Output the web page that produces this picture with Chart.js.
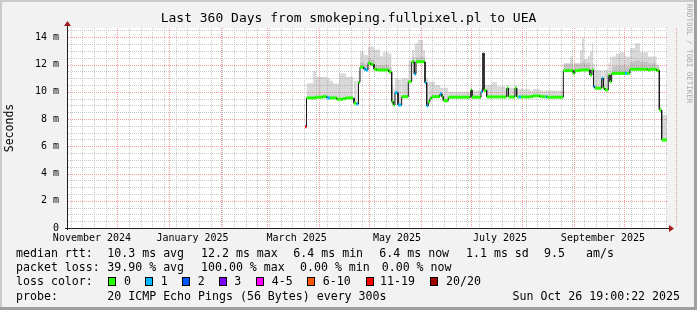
<!DOCTYPE html>
<html>
<head>
<meta charset="utf-8">
<script src="https://cdn.jsdelivr.net/npm/chart.js@4/dist/chart.umd.min.js"></script>
<style>
  html, body { margin: 0; padding: 0; background: #f2f2f2; }
  canvas { display: block; }
</style>
</head>
<body>
<canvas id="rrd" width="697" height="310"></canvas>
<script>
// smokeping 360 day graph, redrawn with Chart.js
const MONO = "'DejaVu Sans Mono', monospace";
const W = 697, H = 310;
const START = Date.UTC(2024, 9, 31, 18);   // Oct 31 2024 19:00 CET
const SPAN_DAYS = 360;
const DAY = 864e5;

// step start (days since START), median rtt (ms), smoke bands (ms), loss colour index
const stepDay = [
  142.8, 143.7, 145.8, 147.6, 149.4, 151.8, 153.6, 156.0, 157.8, 159.6,
  162.0, 163.2, 165.6, 167.4, 169.8, 171.6, 172.2, 173.7, 174.9, 175.8,
  177.0, 178.2, 179.4, 180.6, 182.4, 184.2, 186.0, 187.8, 189.6, 191.4,
  193.2, 194.8, 195.8, 196.8, 198.6, 200.8, 202.8, 204.8, 206.8, 208.4,
  209.4, 210.6, 212.4, 213.6, 214.8, 215.8, 216.8, 217.8, 219.0, 220.8,
  223.8, 225.0, 225.8, 228.8, 232.8, 236.4, 241.8, 242.2, 243.0, 246.6,
  248.4, 249.4, 250.2, 251.8, 255.0, 258.0, 262.8, 263.8, 264.8, 268.8,
  269.8, 270.8, 272.4, 277.8, 279.6, 283.8, 287.2, 288.0, 292.8, 297.8,
  301.8, 303.8, 304.8, 307.8, 309.0, 310.2, 312.6, 313.8, 315.0, 315.9,
  316.8, 320.8, 321.8, 322.8, 324.8, 325.8, 326.8, 329.4, 331.8, 334.8,
  336.0, 337.8, 340.8, 343.8, 348.6, 349.8, 353.8, 355.4, 356.8
];
const medianMs = [
  7.44, 9.55, 9.55, 9.55, 9.60, 9.60, 9.64, 9.55, 9.55, 9.55,
  9.45, 9.45, 9.50, 9.55, 9.55, 9.55, 9.16, 9.10, 10.70, 11.80,
  11.80, 11.65, 11.60, 12.09, 12.00, 11.65, 11.60, 11.60, 11.60, 11.60,
  11.45, 9.27, 9.03, 9.93, 9.03, 9.64, 9.64, 10.74, 12.20, 11.30,
  12.20, 12.20, 12.20, 12.20, 10.67, 8.96, 9.27, 9.52, 9.64, 9.64,
  9.84, 9.64, 9.35, 9.60, 9.60, 9.60, 9.58, 10.13, 9.60, 9.60,
  10.00, 12.83, 10.10, 9.62, 9.62, 9.62, 9.62, 10.26, 9.62, 10.26,
  9.62, 9.62, 9.62, 9.64, 9.70, 9.64, 9.64, 9.60, 9.60, 11.55,
  11.55, 11.35, 11.55, 11.60, 11.60, 11.60, 11.60, 11.23, 11.60, 10.37,
  10.26, 10.99, 10.26, 10.13, 11.23, 10.74, 11.35, 11.35, 11.35, 11.35,
  11.35, 11.65, 11.65, 11.65, 11.60, 11.65, 11.55, 8.66, 6.46
];
// denser part of the smoke
const smokeMidMs = [
  7.44, 9.55, 9.55, 9.55, 9.60, 9.60, 9.64, 9.55, 9.55, 9.55,
  9.45, 9.45, 9.50, 9.55, 9.55, 9.55, 9.16, 9.10, 10.70, 12.15,
  12.15, 12.00, 11.95, 12.45, 12.35, 12.00, 11.95, 11.95, 11.95, 11.95,
  11.80, 9.27, 9.03, 9.93, 9.03, 9.64, 9.64, 10.74, 12.55, 11.65,
  12.55, 12.55, 12.55, 12.55, 10.67, 8.96, 9.27, 9.52, 9.64, 9.64,
  9.84, 9.64, 9.35, 9.60, 9.60, 9.60, 9.58, 10.13, 9.60, 9.60,
  10.00, 12.83, 10.10, 9.62, 9.62, 9.62, 9.62, 10.26, 9.62, 10.26,
  9.62, 9.62, 9.62, 9.64, 9.70, 9.64, 9.64, 9.60, 9.60, 12.05,
  12.05, 11.85, 12.05, 12.10, 12.20, 12.10, 12.10, 11.70, 12.10, 10.37,
  10.26, 10.99, 10.26, 10.13, 11.23, 10.74, 11.85, 11.90, 11.90, 11.85,
  11.85, 12.20, 12.30, 12.20, 12.10, 12.10, 11.90, 8.66, 6.46
];
const smokeMaxMs = [
  7.44, 10.62, 10.62, 11.50, 11.10, 11.10, 11.10, 11.00, 10.80, 10.60,
  10.60, 11.35, 11.35, 11.10, 11.10, 10.90, 10.80, 10.80, 11.50, 12.95,
  12.90, 12.70, 12.70, 13.30, 13.30, 13.10, 13.10, 12.60, 12.90, 12.90,
  12.80, 10.50, 10.20, 11.00, 10.90, 11.00, 11.00, 12.30, 13.07, 13.56,
  13.56, 13.80, 13.80, 13.07, 11.00, 11.00, 10.74, 10.74, 10.74, 10.50,
  10.30, 10.30, 10.30, 10.00, 10.00, 10.00, 10.10, 10.40, 10.10, 10.10,
  10.30, 12.83, 10.50, 10.50, 10.70, 10.40, 10.30, 10.50, 10.30, 10.50,
  10.20, 10.20, 10.20, 10.10, 10.20, 10.10, 10.10, 10.10, 10.10, 12.10,
  12.58, 12.10, 12.10, 13.07, 13.93, 12.40, 12.60, 13.00, 13.56, 12.00,
  11.60, 11.60, 11.60, 11.60, 12.10, 12.58, 12.58, 12.80, 12.90, 12.58,
  12.58, 13.20, 13.56, 12.90, 12.58, 12.58, 12.00, 8.90, 8.30
];
const lossIdx = [
  6, 0, 0, 0, 0, 0, 0, 1, 0, 0,
  0, 0, 0, 0, 0, 0, 0, 1, 0, 0,
  0, 1, 1, 0, 0, 0, 0, 0, 0, 0,
  0, 0, 0, 1, 1, 0, 0, 0, 0, 1,
  0, 0, 0, 0, 1, 1, 0, 0, 0, 0,
  1, 0, 0, 0, 0, 0, 0, 0, 0, 0,
  1, -1, 0, 0, 0, 0, 0, 0, 0, 0,
  0, 1, 0, 0, 0, 0, 1, 0, 0, 0,
  0, 0, 0, 0, 0, 0, 0, 0, 0, 1,
  0, 1, 0, 0, 0, 0, 0, 0, 0, 1,
  0, 0, 0, 0, 0, 0, 0, 0, 0
];

const lossColors = ['#26ff00', '#00b8ff', '#0059ff', '#7e00ff', '#ff00ff', '#ff5500', '#ff0000', '#a10000'];
const lossLabels = ['0', '1', '2', '3', '4-5', '6-10', '11-19', '20/20'];

// x labels (rrdtool centres them inside the month)
const xLabels = ['November 2024', 'January 2025', 'March 2025', 'May 2025', 'July 2025', 'September 2025'];
const xLabelDay = [15.0, 75.3, 137.8, 198.0, 259.8, 321.6];
const yLabelVals = [0, 2, 4, 6, 8, 10, 12, 14];
const Y_MAX = 14.68;

const MINOR = '#c8c8c8';
const MAJOR = '#f29a9a';

const dayOf = (y, m, d) => (Date.UTC(y, m, d) - 3600e3 - START) / DAY;

// grid positions: months, sundays, half ms
const monthDays = [];
for (let k = 1; k <= 12; k++) monthDays.push(dayOf(2024, 10 + k, 1));
const weekDays = [];
for (let d = dayOf(2024, 10, 3); d < SPAN_DAYS; d += 7) weekDays.push(d);
const yMinor = [];
for (let v = 0.5; v < Y_MAX; v += 0.5) yMinor.push(v);

// step tables for the line and the smoke
const toSteps = vals => {
  const pts = [];
  stepDay.forEach((d, i) => {
    const next = i + 1 < stepDay.length ? stepDay[i + 1] : SPAN_DAYS;
    pts.push({ x: d, y: vals[i] }, { x: next, y: vals[i] });
  });
  return pts;
};

const segColor = c => {
  if (c.p0DataIndex % 2) return '#1a1a1a';
  const l = lossIdx[c.p0DataIndex >> 1];
  return l < 0 ? '#1a1a1a' : lossColors[l];
};
const segWidth = c => (c.p0DataIndex % 2 === 0 && lossIdx[c.p0DataIndex >> 1] >= 0) ? 3 : 1;

// dotted rrdtool style grid, placed through the chart scales
function dotV(ctx, x, top, bottom) {
  for (let y = top; y < bottom; y += 2) ctx.fillRect(x, y, 1, 1);
}
function dotH(ctx, y, left, right) {
  for (let x = left + 1; x < right; x += 2) ctx.fillRect(x, y, 1, 1);
}

const rrdDecor = {
  id: 'rrdDecor',
  beforeDraw(chart) {
    const { ctx, chartArea: a } = chart;
    ctx.save();
    ctx.fillStyle = '#f2f2f2';
    ctx.fillRect(0, 0, W, H);
    ctx.fillStyle = '#cbcbcb';
    ctx.fillRect(0, 0, W, 2);
    ctx.fillRect(0, 0, 2, H);
    ctx.fillStyle = '#9f9f9f';
    ctx.fillRect(0, H - 3, W, 3);
    ctx.fillRect(W - 3, 0, 3, H);
    ctx.fillStyle = '#ffffff';
    ctx.fillRect(a.left, a.top, a.right - a.left, a.bottom - a.top);
    ctx.restore();
  },
  beforeDatasetsDraw(chart) {
    const { ctx, chartArea: a, scales: { x, y } } = chart;
    const top = Math.round(a.top), bottom = Math.round(a.bottom);
    const left = Math.round(a.left), right = Math.round(a.right);
    ctx.save();
    ctx.fillStyle = MINOR;
    weekDays.forEach(d => dotV(ctx, Math.round(x.getPixelForValue(d)), top, bottom));
    yMinor.forEach(v => { if (v % 2) dotH(ctx, Math.round(y.getPixelForValue(v)), left, right); });
    ctx.fillStyle = MAJOR;
    monthDays.forEach(d => dotV(ctx, Math.round(x.getPixelForValue(d)), top, bottom));
    yLabelVals.forEach(v => { if (v > 0) dotH(ctx, Math.round(y.getPixelForValue(v)), left, right); });
    ctx.restore();
  },
  afterDatasetsDraw(chart) {
    const { ctx, chartArea: a } = chart;
    const yb = a.bottom + 0.5, xl = a.left + 0.5;
    ctx.save();
    ctx.strokeStyle = '#202020';
    ctx.lineWidth = 1;
    ctx.beginPath();
    ctx.moveTo(a.left - 2, yb); ctx.lineTo(a.right + 2, yb);
    ctx.moveTo(xl, a.bottom + 2); ctx.lineTo(xl, a.top - 3);
    ctx.stroke();
    ctx.fillStyle = '#a01c1c';
    ctx.beginPath();
    ctx.moveTo(a.right + 2, yb - 3.5); ctx.lineTo(a.right + 7, yb); ctx.lineTo(a.right + 2, yb + 3.5);
    ctx.closePath(); ctx.fill();
    ctx.beginPath();
    ctx.moveTo(xl - 3.5, a.top - 2); ctx.lineTo(xl, a.top - 7); ctx.lineTo(xl + 3.5, a.top - 2);
    ctx.closePath(); ctx.fill();
    ctx.restore();
  },
  afterDraw(chart) {
    const { ctx } = chart;
    ctx.save();
    ctx.fillStyle = '#000';
    ctx.textBaseline = 'middle';
    ctx.textAlign = 'center';
    ctx.font = '13px ' + MONO;
    ctx.fillText('Last 360 Days from smokeping.fullpixel.pl to UEA', W / 2, 19);

    ctx.textAlign = 'left';
    ctx.font = '11.6px ' + MONO;
    const put = (s, x, y) => ctx.fillText(s, x, y);
    put('median rtt:', 16, 254);
    put('10.3 ms avg', 107.3, 254);
    put('12.2 ms max', 201, 254);
    put('6.4 ms min', 293.3, 254);
    put('6.4 ms now', 379.3, 254);
    put('1.1 ms sd', 466, 254);
    put('9.5', 544, 254);
    put('am/s', 586, 254);

    put('packet loss:', 16, 268);
    put('39.90 % avg', 107.3, 268);
    put('100.00 % max', 201, 268);
    put('0.00 % min', 300, 268);
    put('0.00 % now', 381.7, 268);

    put('loss color:', 16, 282);
    const boxX = [108.5, 145.5, 182.5, 219.5, 256.5, 307.5, 366.5, 430.5];
    const labX = [124, 160.7, 197.7, 234.3, 271.7, 322.7, 380, 446];
    lossLabels.forEach((t, i) => {
      ctx.fillStyle = lossColors[i];
      ctx.fillRect(boxX[i], 277.5, 7, 8);
      ctx.strokeStyle = '#000';
      ctx.lineWidth = 1;
      ctx.strokeRect(boxX[i], 277.5, 7, 8);
      ctx.fillStyle = '#000';
      put(t, labX[i], 282);
    });

    put('probe:', 16, 296.5);
    put('20 ICMP Echo Pings (56 Bytes) every 300s', 107.3, 296.5);
    ctx.textAlign = 'right';
    put('Sun Oct 26 19:00:22 2025', 680, 296.5);

    // watermark
    ctx.translate(688.5, 4);
    ctx.rotate(Math.PI / 2);
    ctx.textAlign = 'left';
    ctx.fillStyle = '#aaaaaa';
    ctx.font = '7.5px ' + MONO;
    ctx.fillText('RRDTOOL / TOBI OETIKER', 0, 0);
    ctx.restore();
  }
};

const SMOKE = 'rgba(150,150,150,0.36)';
const SMOKE_MID = 'rgba(150,150,150,0.3)';

new Chart(document.getElementById('rrd'), {
  type: 'line',
  data: {
    datasets: [
      {
        label: 'smoke',
        data: toSteps(smokeMaxMs),
        order: 3,
        borderWidth: 0,
        borderColor: 'rgba(0,0,0,0)',
        pointRadius: 0,
        fill: { target: 2, above: SMOKE, below: SMOKE }
      },
      {
        label: 'smoke mid',
        data: toSteps(smokeMidMs),
        order: 2,
        borderWidth: 0,
        borderColor: 'rgba(0,0,0,0)',
        pointRadius: 0,
        fill: { target: 2, above: SMOKE_MID, below: SMOKE_MID }
      },
      {
        label: 'median rtt',
        data: toSteps(medianMs),
        order: 1,
        borderColor: '#1a1a1a',
        borderWidth: 1,
        pointRadius: 0,
        fill: false,
        segment: { borderColor: segColor, borderWidth: segWidth }
      }
    ]
  },
  options: {
    responsive: false,
    animation: false,
    devicePixelRatio: 1,
    layout: { padding: { top: 28, right: 30, left: 0, bottom: 0 } },
    plugins: { legend: { display: false }, tooltip: { enabled: false }, title: { display: false } },
    scales: {
      x: {
        type: 'linear', position: 'bottom', min: 0, max: SPAN_DAYS,
        afterBuildTicks: s => { s.ticks = xLabelDay.map(v => ({ value: v })); },
        afterFit: s => { s.height = 82; },
        grid: { display: false, drawTicks: false },
        border: { display: false },
        ticks: {
          autoSkip: false, maxRotation: 0, minRotation: 0, padding: 4,
          color: '#000', font: { family: MONO, size: 10 },
          callback: (v, i) => xLabels[i]
        }
      },
      y: {
        type: 'linear', min: 0, max: Y_MAX,
        afterBuildTicks: s => { s.ticks = yLabelVals.map(v => ({ value: v })); },
        afterFit: s => { s.width = 67; },
        grid: { display: false, drawTicks: false },
        border: { display: false },
        ticks: {
          autoSkip: false, padding: 8, color: '#000', font: { family: MONO, size: 10 },
          callback: v => (v === 0 ? '0' : v + ' m')
        },
        title: { display: true, text: 'Seconds', color: '#000', font: { family: MONO, size: 11.5 }, padding: { top: 3, bottom: 0 } }
      }
    }
  },
  plugins: [rrdDecor]
});
</script>
</body>
</html>
